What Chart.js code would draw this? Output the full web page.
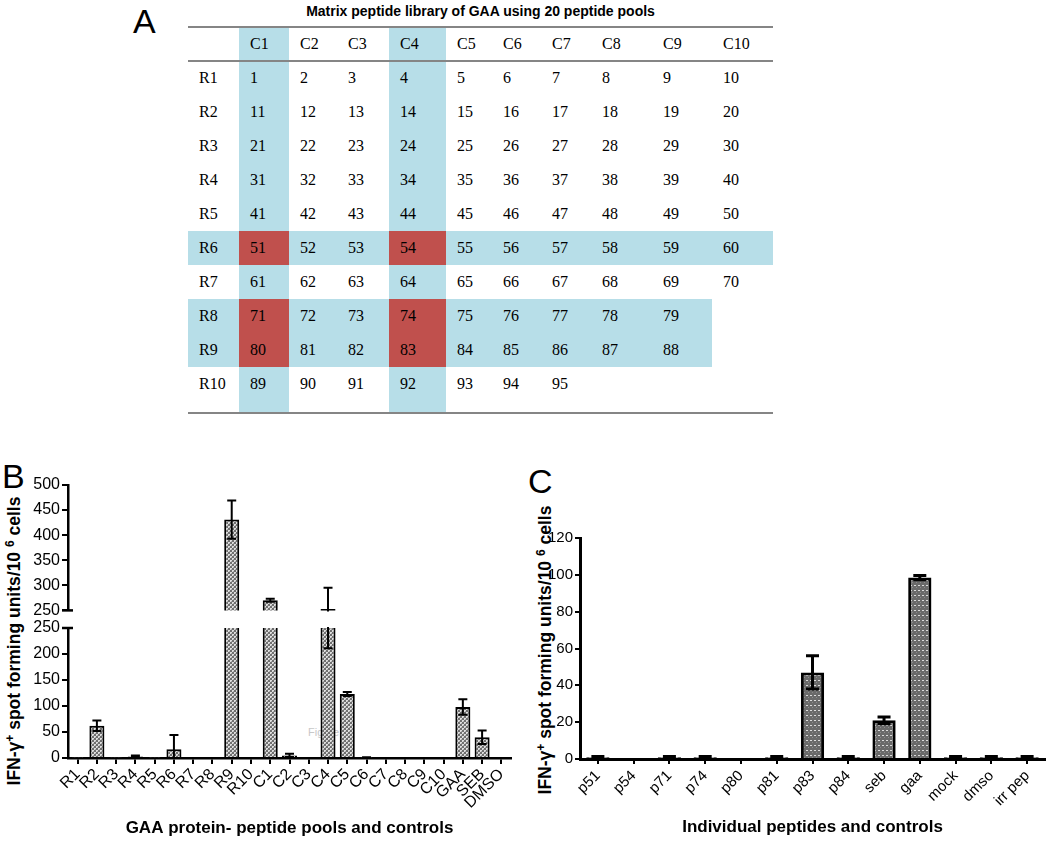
<!DOCTYPE html>
<html><head><meta charset="utf-8">
<script src="https://cdn.jsdelivr.net/npm/chart.js@4.4.1/dist/chart.umd.min.js"></script>
<style>
html,body{margin:0;padding:0;background:#fff;}
body{width:1050px;height:843px;position:relative;overflow:hidden;font-family:"Liberation Sans",Arial,sans-serif;color:#000;}
.letter{position:absolute;font-size:34px;line-height:34px;}
#ttl{position:absolute;left:188px;width:585px;top:3px;text-align:center;font-weight:bold;font-size:14px;line-height:16px;}
#tbl{position:absolute;left:188px;top:27px;width:585px;border-collapse:collapse;table-layout:fixed;font-family:"Liberation Serif","Times New Roman",serif;font-size:16px;}
#tbl td{height:34px;padding:0 0 0 11px;vertical-align:middle;white-space:nowrap;overflow:hidden;}
#tbl tr.sp td{height:12px;}
.hl{position:absolute;left:188px;width:585px;height:2px;background:#858585;z-index:3;}
.ylab{position:absolute;transform:translate(-50%,-50%) rotate(-90deg);white-space:nowrap;font-weight:bold;font-size:17.5px;}
.ylab sup{font-size:12px;}
canvas{position:absolute;z-index:2;}
#wm{position:absolute;left:308px;top:726px;font-size:11px;color:#c8c8c8;z-index:1;}
</style>
</head><body>
<div class="letter" style="left:133px;top:4px;">A</div>
<div class="letter" style="left:2px;top:459px;">B</div>
<div class="letter" style="left:528px;top:464px;">C</div>
<div id="ttl">Matrix peptide library of GAA using 20 peptide pools</div>
<table id="tbl"><colgroup id="cg"></colgroup><tbody id="tb"></tbody></table>
<div class="hl" style="top:26px"></div>
<div class="hl" style="top:60px"></div>
<div class="hl" style="top:412px"></div>

<div class="ylab" style="left:14px;top:641px;">IFN-γ<sup>+</sup> spot forming units/10 <sup>6</sup> cells</div>
<div class="ylab" style="left:545px;top:650px;">IFN-γ<sup>+</sup> spot forming units/10 <sup>6</sup> cells</div>
<div id="wm">Figure</div>

<canvas id="bUp" width="520" height="152" style="left:0;top:470px"></canvas>
<canvas id="bLow" width="520" height="229" style="left:0;top:614px"></canvas>
<canvas id="cChart" width="520" height="373" style="left:530px;top:470px"></canvas>

<script>
// ---------- Panel A data ----------
const tableCols = ['C1','C2','C3','C4','C5','C6','C7','C8','C9','C10'];
const tableRowLabels = ['R1','R2','R3','R4','R5','R6','R7','R8','R9','R10'];
const tableR1 = [1,2,3,4,5,6,7,8,9,10];
const tableR2 = [11,12,13,14,15,16,17,18,19,20];
const tableR3 = [21,22,23,24,25,26,27,28,29,30];
const tableR4 = [31,32,33,34,35,36,37,38,39,40];
const tableR5 = [41,42,43,44,45,46,47,48,49,50];
const tableR6 = [51,52,53,54,55,56,57,58,59,60];
const tableR7 = [61,62,63,64,65,66,67,68,69,70];
const tableR8 = [71,72,73,74,75,76,77,78,79];
const tableR9 = [80,81,82,83,84,85,86,87,88];
const tableR10 = [89,90,91,92,93,94,95];
const positiveRows = ['R6','R8','R9'];
const positiveCols = ['C1','C4'];

// ---------- Panel B data ----------
const poolLabels = ['R1','R2','R3','R4','R5','R6','R7','R8','R9','R10','C1','C2','C3','C4','C5','C6','C7','C8','C9','C10','GAA','SEB','DMSO'];
const poolMeans  = [1,62,1,3,1,17,0,0,431,0,270,5,0,253,123,1,0,0,0,0,98,40,0];
const poolErrors = [0,10,0,2,0,27,0,0,38,0,3,3,0,42,4,0.5,0,0,0,0,15,13,0];
const lowerTicks = [0,50,100,150,200,250];
const upperTicks = [250,300,350,400,450,500];

// ---------- Panel C data ----------
const peptideLabels = ['p51','p54','p71','p74','p80','p81','p83','p84','seb','gaa','mock','dmso','irr pep'];
const peptideMeans  = [1,0,1,1,0,1,47,1,21,98.5,1,1,1];
const peptideErrors = [0.4,0,0.4,0.4,0,0.4,9,0.4,1.8,1.2,0.4,0.4,0.4];
const cTicks = [0,20,40,60,80,100,120];

// ---------- build table ----------
const colWidths = [51,50,48,52,57,46,49,50,61,60,61];
const BLUE = '#b7dee8', RED = '#c0504d';
const cg = document.getElementById('cg');
colWidths.forEach(w => { const c = document.createElement('col'); c.style.width = w + 'px'; cg.appendChild(c); });
const tb = document.getElementById('tb');
function addRow(cells, rowKey, isSpacer) {
  const tr = document.createElement('tr');
  if (isSpacer) tr.className = 'sp';
  cells.forEach((txt, ci) => {
    const td = document.createElement('td');
    td.textContent = txt;
    const colKey = ci === 0 ? null : tableCols[ci - 1];
    const colHit = colKey && positiveCols.includes(colKey);
    const rowHit = rowKey && positiveRows.includes(rowKey) && txt !== '';
    if (colHit && rowHit) td.style.background = RED;
    else if (colHit || rowHit) td.style.background = BLUE;
    tr.appendChild(td);
  });
  tb.appendChild(tr);
}
addRow([''].concat(tableCols), null, false);
const allRows = [tableR1,tableR2,tableR3,tableR4,tableR5,tableR6,tableR7,tableR8,tableR9,tableR10];
allRows.forEach((r, i) => {
  const cells = [tableRowLabels[i]];
  for (let k = 0; k < tableCols.length; k++) cells.push(k < r.length ? String(r[k]) : '');
  addRow(cells, tableRowLabels[i], false);
});
addRow(new Array(tableCols.length + 1).fill(''), null, true);

// ---------- Chart.js ----------
Chart.defaults.font.family = "'Liberation Sans', Arial, sans-serif";
Chart.defaults.color = '#000';

function makeDotPattern() {
  const c = document.createElement('canvas'); c.width = 4; c.height = 4;
  const x = c.getContext('2d');
  x.fillStyle = '#707070'; x.fillRect(0,0,4,4);
  x.fillStyle = '#dedede'; x.fillRect(0,0,2,2); x.fillRect(2,2,2,2);
  x.fillStyle = '#a8a8a8'; x.fillRect(1,1,1,1); x.fillRect(3,3,1,1);
  return x.createPattern(c, 'repeat');
}
function makeStripePattern() {
  const c = document.createElement('canvas'); c.width = 4; c.height = 5;
  const x = c.getContext('2d');
  x.fillStyle = '#6a6a6a'; x.fillRect(0,0,4,5);
  x.fillStyle = '#dcdcdc'; x.fillRect(0,0,2,1);
  x.fillStyle = '#8c8c8c'; x.fillRect(2,2,1,1);
  return x.createPattern(c, 'repeat');
}

const errorBars = {
  id: 'errorBars',
  afterDatasetsDraw(chart, args, opts) {
    const ctx = chart.ctx, area = chart.chartArea, ys = chart.scales.y;
    const meta = chart.getDatasetMeta(0), vals = chart.data.datasets[0].data;
    ctx.save();
    ctx.beginPath(); ctx.rect(area.left, area.top - 1, area.right - area.left, area.bottom - area.top + 2); ctx.clip();
    ctx.strokeStyle = '#000'; ctx.lineWidth = opts.width; ctx.lineCap = 'butt';
    meta.data.forEach((bar, i) => {
      const e = opts.errors[i]; if (!e) return;
      const v = vals[i];
      const t = ys.getPixelForValue(v + e), b = ys.getPixelForValue(v - e);
      ctx.beginPath();
      ctx.moveTo(bar.x, t); ctx.lineTo(bar.x, b);
      ctx.moveTo(bar.x - opts.cap / 2, t); ctx.lineTo(bar.x + opts.cap / 2, t);
      ctx.moveTo(bar.x - opts.cap / 2, b); ctx.lineTo(bar.x + opts.cap / 2, b);
      ctx.stroke();
    });
    ctx.restore();
  }
};
const breakMark = {
  id: 'breakMark',
  afterDraw(chart, args, opts) {
    const ctx = chart.ctx, a = chart.chartArea;
    const y = opts.where === 'bottom' ? a.bottom : a.top;
    ctx.save(); ctx.strokeStyle = '#000'; ctx.lineWidth = 2.5;
    ctx.beginPath(); ctx.moveTo(a.left - 6, y); ctx.lineTo(a.left + 5, y); ctx.stroke();
    ctx.restore();
  }
};

const dotPat = makeDotPattern();
function bDataset() {
  return { data: poolMeans, backgroundColor: dotPat, borderColor: '#000', borderWidth: 2,
           barPercentage: 0.78, categoryPercentage: 1 };
}
const yGrid = { drawOnChartArea: false, tickLength: 6, color: '#000', lineWidth: 2 };
const axBorder = { color: '#000', width: 2.5 };

// Panel B upper (broken axis part)
new Chart(document.getElementById('bUp'), {
  type: 'bar',
  data: { labels: poolLabels, datasets: [bDataset()] },
  options: {
    responsive: false, animation: false, events: [],
    layout: { padding: { top: 15, bottom: 10, right: 9, left: 0 } },
    plugins: { legend: { display: false }, tooltip: { enabled: false },
      errorBars: { errors: poolErrors, cap: 9, width: 2 }, breakMark: { where: 'bottom' } },
    scales: {
      x: { display: false },
      y: { min: upperTicks[0], max: upperTicks[upperTicks.length - 1],
           afterBuildTicks: s => { s.ticks = upperTicks.map(v => ({ value: v })); },
           ticks: { font: { size: 16 }, padding: 2, color: '#000' },
           grid: yGrid, border: axBorder, afterFit: s => { s.width = 68; } }
    }
  },
  plugins: [errorBars, breakMark]
});

// Panel B lower
new Chart(document.getElementById('bLow'), {
  type: 'bar',
  data: { labels: poolLabels, datasets: [bDataset()] },
  options: {
    responsive: false, animation: false, events: [],
    layout: { padding: { top: 14, bottom: 0, right: 9, left: 0 } },
    plugins: { legend: { display: false }, tooltip: { enabled: false },
      errorBars: { errors: poolErrors, cap: 9, width: 2 }, breakMark: { where: 'top' } },
    scales: {
      x: { grid: { offset: false, drawOnChartArea: false, tickLength: 6, color: '#000', lineWidth: 2 },
           border: axBorder,
           ticks: { autoSkip: false, minRotation: 45, maxRotation: 45, padding: 1, font: { size: 16 }, color: '#000' },
           title: { display: true, text: 'GAA protein- peptide pools and controls', font: { size: 17, weight: 'bold' }, color: '#000', padding: { top: 0, bottom: 4 } },
           afterFit: s => { s.height = 85; } },
      y: { min: lowerTicks[0], max: lowerTicks[lowerTicks.length - 1],
           afterBuildTicks: s => { s.ticks = lowerTicks.map(v => ({ value: v })); },
           ticks: { font: { size: 16 }, padding: 2, color: '#000' },
           grid: yGrid, border: axBorder, afterFit: s => { s.width = 68; } }
    }
  },
  plugins: [errorBars, breakMark]
});

// Panel C
new Chart(document.getElementById('cChart'), {
  type: 'bar',
  data: { labels: peptideLabels, datasets: [{ data: peptideMeans, backgroundColor: makeStripePattern(),
          borderColor: '#000', borderWidth: 3, barPercentage: 0.65, categoryPercentage: 1 }] },
  options: {
    responsive: false, animation: false, events: [],
    layout: { padding: { top: 68, bottom: 0, right: 5, left: 0 } },
    plugins: { legend: { display: false }, tooltip: { enabled: false },
      errorBars: { errors: peptideErrors, cap: 13, width: 3 } },
    scales: {
      x: { grid: { offset: false, drawOnChartArea: false, tickLength: 5, color: '#000', lineWidth: 2 },
           border: { color: '#000', width: 3 },
           ticks: { autoSkip: false, minRotation: 45, maxRotation: 45, padding: 3, font: { size: 15 }, color: '#000' },
           title: { display: true, text: 'Individual peptides and controls', font: { size: 17, weight: 'bold' }, color: '#000', padding: { top: 0, bottom: 5 } },
           afterFit: s => { s.height = 84; } },
      y: { min: cTicks[0], max: cTicks[cTicks.length - 1],
           afterBuildTicks: s => { s.ticks = cTicks.map(v => ({ value: v })); },
           ticks: { font: { size: 15 }, padding: 2, color: '#000' },
           grid: { drawOnChartArea: false, tickLength: 5, color: '#000', lineWidth: 2 },
           border: { color: '#000', width: 3 }, afterFit: s => { s.width = 50; } }
    }
  },
  plugins: [errorBars]
});
</script>
</body></html>
